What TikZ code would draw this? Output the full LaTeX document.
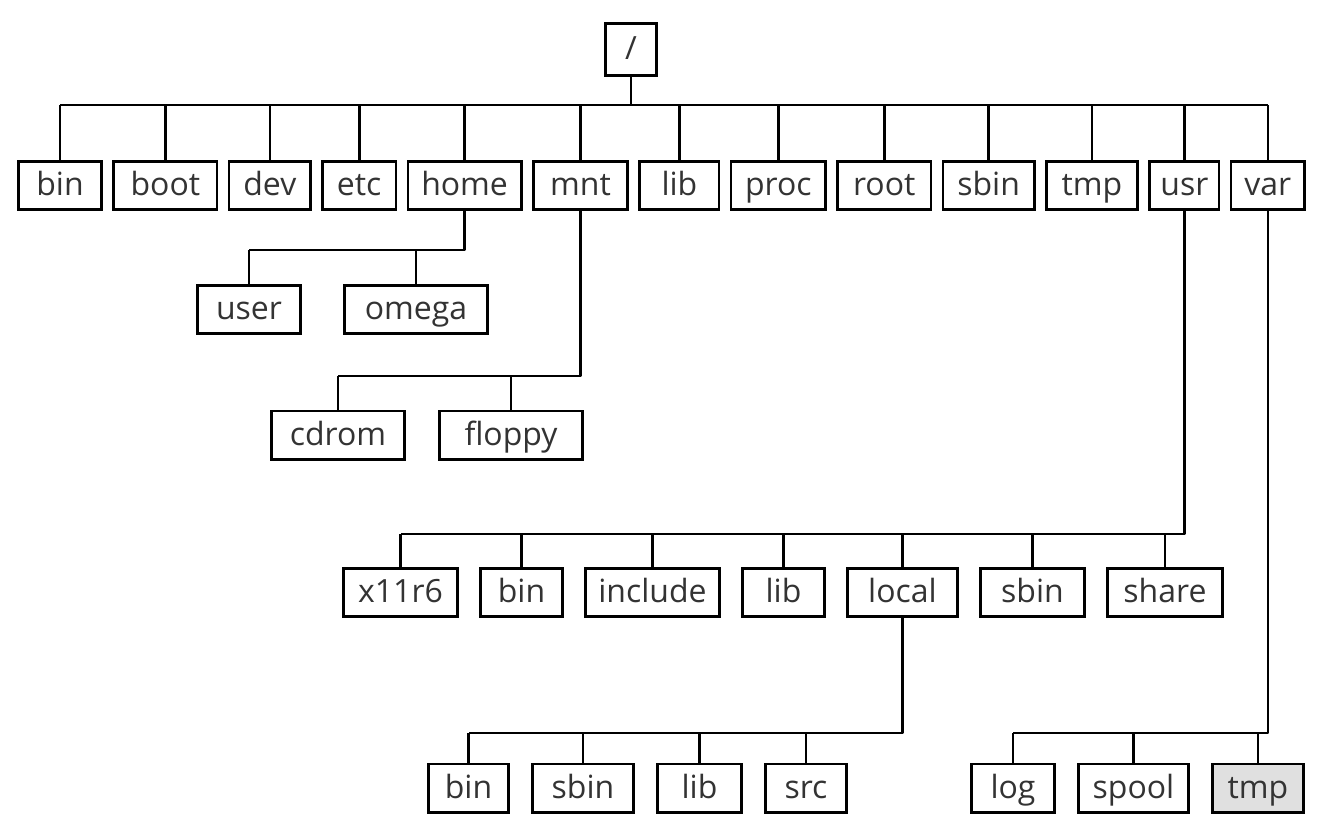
\documentclass[tikz,border=0pt]{standalone}
\usepackage{fontspec}
\setmainfont{Open Sans}
\usetikzlibrary{positioning}
\tikzstyle{folder} = [rectangle,
draw=black,
line width=1.3pt,
minimum height=24.2pt,
inner sep=0pt,
text height=13pt,
text depth=3pt,
text=black!80,
font=\fontsize{16}{19}\selectfont]
\tikzstyle{wire} = [line width=1.3pt, line join=round]

\begin{document}
\begin{tikzpicture}[x=0.5pt, y=-0.5pt]
\useasboundingbox (0,0) rectangle (1335,827);

% root
\node (top) [folder, minimum width=25.7pt, minimum height=26.2pt] at (631,49.5) {/};

% first level
\node (bin) [folder, minimum width=41.7pt] at (60,185.5) {bin};
\node (boot) [folder, minimum width=51.7pt, right=4.7pt of bin] {boot};
\node (dev) [folder, minimum width=40.7pt, right=4.7pt of boot] {dev};
\node (etc) [folder, minimum width=36.7pt, right=4.7pt of dev] {etc};
\node (home) [folder, minimum width=56.7pt, right=4.7pt of etc] {home};
\node (mnt) [folder, minimum width=47.2pt, right=4.7pt of home] {mnt};
\node (lib) [folder, minimum width=39.7pt, right=4.7pt of mnt] {lib};
\node (proc) [folder, minimum width=47.2pt, right=4.7pt of lib] {proc};
\node (root) [folder, minimum width=46.7pt, right=4.7pt of proc] {root};
\node (sbin) [folder, minimum width=45.7pt, right=4.7pt of root] {sbin};
\node (tmp) [folder, minimum width=45.7pt, right=4.7pt of sbin] {tmp};
\node (usr) [folder, minimum width=34.7pt, right=4.7pt of tmp] {usr};
\node (var) [folder, minimum width=36.7pt, right=4.7pt of usr] {var};

% home and mnt
\node (user) [folder, minimum width=51.7pt] at (249,309.5) {user};
\node (omega) [folder, minimum width=71.7pt, right=20.5pt of user] {omega};
\node (cdrom) [folder, minimum width=66.7pt] at (338,435) {cdrom};
\node (floppy) [folder, minimum width=71.7pt, right=16pt of cdrom] {floppy};

% usr
\node (x11) [folder, minimum width=57.2pt] at (400.5,592.5) {x11r6};
\node (ubin) [folder, minimum width=41.2pt, right=10pt of x11] {bin};
\node (incl) [folder, minimum width=67.2pt, right=10pt of ubin] {include};
\node (ulib) [folder, minimum width=41.2pt, right=10pt of incl] {lib};
\node (local) [folder, minimum width=55.2pt, right=10pt of ulib] {local};
\node (usbin) [folder, minimum width=52.2pt, right=10pt of local] {sbin};
\node (share) [folder, minimum width=57.7pt, right=10pt of usbin] {share};

% local
\node (lbin) [folder, minimum width=40.2pt] at (468.5,788) {bin};
\node (lsbin) [folder, minimum width=50.7pt, right=10.5pt of lbin] {sbin};
\node (llib) [folder, minimum width=42.2pt, right=10.5pt of lsbin] {lib};
\node (src) [folder, minimum width=40.7pt, right=10.5pt of llib] {src};

% var
\node (log) [folder, minimum width=41.7pt] at (1013,788) {log};
\node (spool) [folder, minimum width=55.2pt, right=10.5pt of log] {spool};
\node (vtmp) [folder, minimum width=45.7pt, fill=black!12, right=10.5pt of spool] {tmp};

% bus heights
\coordinate (topbus) at (0,105);
\coordinate (homebus) at (0,250);
\coordinate (mntbus) at (0,376);
\coordinate (usrbus) at (0,534);
\coordinate (localbus) at (0,733);
\coordinate (varbus) at (0,733);

\draw [wire] (top.south) -- (top |- topbus);
\draw [wire] (bin |- topbus) -- (var |- topbus);
\foreach \d in {bin,boot,dev,etc,home,mnt,lib,proc,root,sbin,tmp,usr,var}
  \draw [wire] (\d.north) -- (\d |- topbus);

\draw [wire] (home.south) |- (user |- homebus);
\foreach \d in {user,omega}
  \draw [wire] (\d.north) -- (\d |- homebus);

\draw [wire] (mnt.south) |- (cdrom |- mntbus);
\foreach \d in {cdrom,floppy}
  \draw [wire] (\d.north) -- (\d |- mntbus);

\draw [wire] (usr.south) |- (x11 |- usrbus);
\foreach \d in {x11,ubin,incl,ulib,local,usbin,share}
  \draw [wire] (\d.north) -- (\d |- usrbus);

\draw [wire] (local.south) |- (lbin |- localbus);
\foreach \d in {lbin,lsbin,llib,src}
  \draw [wire] (\d.north) -- (\d |- localbus);

\draw [wire] (var.south) |- (log |- varbus);
\foreach \d in {log,spool,vtmp}
  \draw [wire] (\d.north) -- (\d |- varbus);

\end{tikzpicture}
\end{document}
